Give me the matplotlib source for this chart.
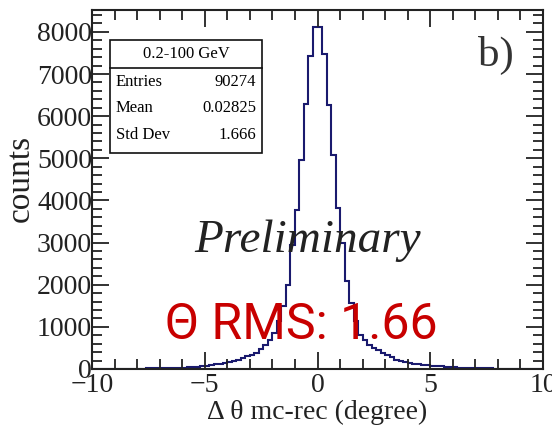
import numpy as np
import matplotlib
matplotlib.use("Agg")
import matplotlib.pyplot as plt
from matplotlib.ticker import MultipleLocator

# Histogram of angular residual (100 bins of 0.2 degree from -10 to 10)
bin_edges = np.linspace(-10, 10, 101)
counts = [
    # -10 .. -8
    1, 1, 2, 1, 2, 3, 2, 3, 4, 5,
    # -8 .. -6
    8, 10, 12, 12, 15, 18, 20, 22, 26, 30,
    # -6 .. -5
    35, 40, 48, 55, 65,
    # -5 .. -4
    80, 95, 110, 125, 145,
    # -4 .. -3
    170, 195, 225, 260, 300,
    # -3 .. -2
    330, 390, 470, 560, 680,
    # -2 .. -1
    850, 1150, 1500, 2000, 2950,
    # -1 .. 0
    3770, 4970, 6300, 7420, 8110,
    # 0 .. 1
    8110, 7480, 6270, 5070, 3830,
    # 1 .. 2
    3000, 2100, 1560, 1150, 800,
    # 2 .. 3
    700, 570, 500, 440, 380,
    # 3 .. 4
    330, 290, 220, 190, 165,
    # 4 .. 5
    140, 125, 110, 100, 90,
    # 5 .. 6
    75, 65, 60, 55, 50,
    # 6 .. 8
    40, 35, 30, 28, 25, 20, 18, 15, 12, 10,
    # 8 .. 10
    8, 6, 5, 4, 3, 2, 2, 1, 1, 0,
]

stats_title = "0.2-100 GeV"
stats_names = ["Entries", "Mean", "Std Dev"]
stats_values = ["90274", "0.02825", "1.666"]

serif = ["Liberation Serif", "DejaVu Serif"]
plt.rcParams["font.family"] = serif
plt.rcParams["mathtext.fontset"] = "stix"

fig = plt.figure(figsize=(5.52, 4.30), dpi=100)
ax = fig.add_axes([92 / 552, 61 / 430, 451 / 552, 359 / 430])

ax.stairs(counts, bin_edges, color="#1a1a6e", linewidth=1.5)

ax.set_xlim(-10, 10)
ax.set_ylim(0, 8520)

ax.xaxis.set_major_locator(MultipleLocator(5))
ax.xaxis.set_minor_locator(MultipleLocator(1))
ax.yaxis.set_major_locator(MultipleLocator(1000))
ax.yaxis.set_minor_locator(MultipleLocator(200))
ax.tick_params(which="both", direction="in", top=True, right=True,
               width=1.3, colors="#222222", labelsize=20)
ax.tick_params(which="major", length=12)
ax.tick_params(which="minor", length=7)
ax.tick_params(axis="x", pad=3)
ax.tick_params(axis="y", pad=0)
for s in ax.spines.values():
    s.set_linewidth(1.5)
    s.set_color("#222222")

ax.set_xlabel("Δ θ mc-rec (degree)", fontsize=20, color="#222222", labelpad=1)
ax.set_ylabel("counts", fontsize=24, color="#222222")
ax.yaxis.set_label_coords(-0.124, 0.53)

# Statistics box
box_l, box_r = 110, 262
box_t, box_b, box_h = 40, 153, 68


def fx(px):
    return px / 552


def fy(py):
    return 1 - py / 430


fig.patches.append(plt.Rectangle((fx(box_l), fy(box_b)), fx(box_r) - fx(box_l),
                                 fy(box_t) - fy(box_b), transform=fig.transFigure,
                                 fill=True, facecolor="white", edgecolor="#111111",
                                 linewidth=1.2, zorder=5))
fig.add_artist(plt.Line2D([fx(box_l), fx(box_r)], [fy(box_h), fy(box_h)],
                          transform=fig.transFigure, color="#111111", linewidth=1.2, zorder=6))
fig.text(fx((box_l + box_r) / 2), fy((box_t + box_h) / 2), stats_title, ha="center",
         va="center", fontsize=12, zorder=7)
for i, (n, v) in enumerate(zip(stats_names, stats_values)):
    y = fy(82 + i * 26.5)
    fig.text(fx(116), y, n, ha="left", va="center", fontsize=12, zorder=7)
    fig.text(fx(256), y, v, ha="right", va="center", fontsize=12, zorder=7)

fig.text(fx(478), fy(55), "b)", ha="left", va="center", fontsize=31, color="#333333")
fig.text(fx(308), fy(241), "Preliminary", ha="center", va="center", fontsize=34,
         style="italic", color="#222222")
fig.text(fx(301), fy(325), "Θ RMS: 1.66", ha="center", va="center", fontsize=36,
         family=["Roboto", "DejaVu Sans"], color="#c80000", zorder=8)

fig.savefig("out.png", dpi=100)
